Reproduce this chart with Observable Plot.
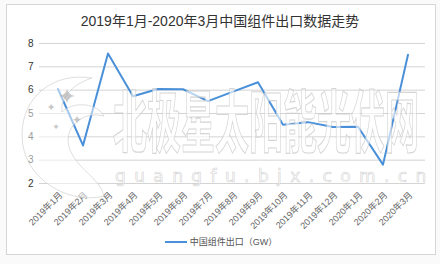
<!DOCTYPE html>
<html>
<head>
<meta charset="utf-8">
<script src="https://cdn.jsdelivr.net/npm/d3@7"></script>
<script src="https://cdn.jsdelivr.net/npm/@observablehq/plot@0.6"></script>
<style>
  html, body { margin: 0; padding: 0; }
  body {
    width: 440px; height: 264px; position: relative; overflow: hidden;
    background: #fafafa;
    font-family: "Helvetica Neue", Arial, "Liberation Sans", "Noto Sans CJK SC", sans-serif;
  }
  #frame {
    position: absolute; left: 6px; top: 4px; width: 430px; height: 251px;
    border: 1px solid #d6d6d6; background: #fff; box-sizing: border-box;
  }
  #title {
    position: absolute; left: 0; top: 12px; width: 440px; text-align: center;
    font-size: 14px; color: #333; line-height: 18px;
  }
  #chart { position: absolute; left: 7px; top: 30px; }
  #legend {
    position: absolute; left: 0; top: 235px; width: 442px; text-align: center;
    font-size: 9px; color: #555; line-height: 14px;
  }
  #legend .swatch {
    display: inline-block; width: 22px; height: 2px; background: #4a90d9;
    vertical-align: middle; margin-right: 3px; position: relative; top: -1px;
  }
  .wm { position: absolute; pointer-events: none; font-family: "Noto Sans CJK SC", sans-serif; white-space: nowrap; line-height: normal; }
  #wm-name {
    left: 113px; top: 69px; font-size: 34px; font-weight: 700;
    color: rgba(255,255,255,0.62); -webkit-text-stroke: 0.6px rgba(195,195,195,0.7);
    transform: scaleY(2); transform-origin: left top;
  }
  #wm-url {
    left: 115px; top: 166px; font-size: 17px; letter-spacing: 8.4px;
    font-family: "DejaVu Sans", sans-serif;
    color: rgba(255,255,255,0.7); -webkit-text-stroke: 0.6px rgba(195,195,195,0.75);
  }
  #wm-logo { position: absolute; left: 0; top: 0; pointer-events: none; }
</style>
</head>
<body>
<div id="frame"></div>
<div id="title">2019年1月-2020年3月中国组件出口数据走势</div>
<div id="chart"></div>
<svg id="wm-logo" width="440" height="264">
  <path d="M104,196 C70,205 22,180 22,135 C22,95 55,72 92,78 C70,85 60,100 62,112 C75,100 98,104 104,116 C80,110 62,130 70,150 C78,170 100,178 104,196 Z"
        fill="rgba(255,255,255,0.5)" stroke="rgba(200,200,200,0.6)" stroke-width="1"/>
  <g fill="rgba(175,175,175,0.7)" font-family="DejaVu Sans" text-anchor="middle">
    <text x="67" y="104" font-size="22">✦</text>
    <text x="51" y="111" font-size="11">✦</text>
    <text x="77" y="124" font-size="12">✦</text>
    <text x="56" y="130" font-size="9">✦</text>
  </g>
</svg>
<div id="legend"><span class="swatch"></span>中国组件出口（GW）</div>
<div id="wm-name" class="wm">北极星太阳能光伏网</div>
<div id="wm-url" class="wm">guangfu.bjx.com.cn</div>
<script>
// Monthly module exports from China, Jan 2019 – Mar 2020 (GW)
const months = [
  "2019年1月", "2019年2月", "2019年3月", "2019年4月", "2019年5月",
  "2019年6月", "2019年7月", "2019年8月", "2019年9月", "2019年10月",
  "2019年11月", "2019年12月", "2020年1月", "2020年2月", "2020年3月"
];
const exportsGW = [6.05, 3.63, 7.57, 5.74, 6.05, 6.04, 5.53, 5.94, 6.34, 4.52, 4.63, 4.42, 4.43, 2.81, 7.52];
const yTicks = [2, 3, 4, 5, 6, 7, 8];

const data = months.map((m, i) => ({month: m, value: exportsGW[i]}));

const chart = Plot.plot({
  width: 428,
  height: 202,
  marginLeft: 32,
  marginRight: 10,
  marginTop: 13,
  marginBottom: 49,
  style: {fontFamily: "\"Helvetica Neue\", Arial, \"Liberation Sans\", \"Noto Sans CJK SC\", sans-serif", background: "transparent", overflow: "visible"},
  x: {type: "band", domain: months, padding: 0, label: null},
  y: {domain: [2, 8], label: null},
  marks: [
    Plot.gridY(yTicks, {stroke: "#d4d4d4", strokeOpacity: 1}),
    Plot.axisY(yTicks, {tickSize: 0, tickPadding: 6, fontSize: 10, fill: "#333", label: null}),
    Plot.axisX({tickSize: 0, tickRotate: -45, fontSize: 9, fill: "#666", tickPadding: 10, dx: 3, label: null}),
    Plot.lineY(data, {x: "month", y: "value", stroke: "#4a90d9", strokeWidth: 2})
  ]
});
document.getElementById("chart").appendChild(chart);
</script>
</body>
</html>
